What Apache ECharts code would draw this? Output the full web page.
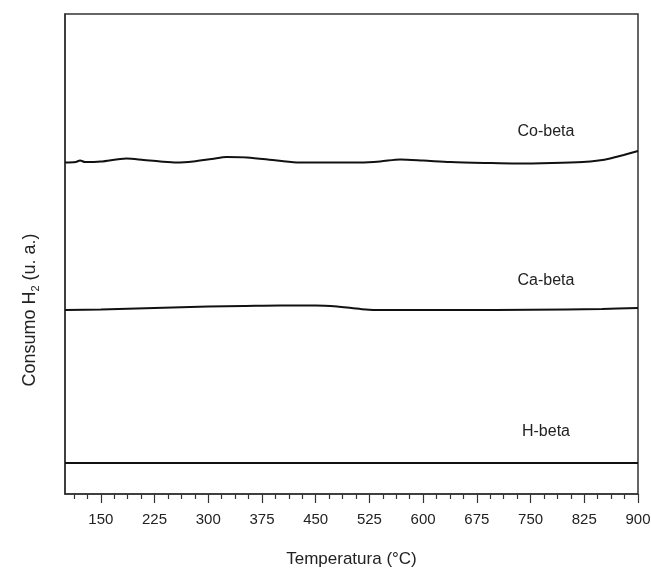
<!DOCTYPE html>
<html>
<head>
<meta charset="utf-8">
<script src="https://cdn.jsdelivr.net/npm/echarts@6/dist/echarts.min.js"></script>
<style>
html,body{margin:0;padding:0;background:#fff;}
#chart{width:651px;height:569px;}
</style>
</head>
<body>
<div id="chart"></div>
<script>
// Data (temperature in °C, signal in arbitrary units)
var coBetaT = [100, 115, 121, 128, 150, 186, 210, 233, 256, 279, 305, 326, 354, 396, 428, 470, 512, 540, 568, 600, 638, 690, 731, 780, 823, 845, 861, 880, 900];
var coBetaV = [331.5, 332, 333.5, 332, 332.5, 335.5, 334, 332.5, 331.5, 332.5, 335, 337, 336.5, 333.5, 331.5, 331.5, 331.5, 332.5, 334.5, 333.5, 332, 331, 330.5, 331, 332, 333.5, 335.5, 339, 343];
var caBetaT = [100, 150, 200, 250, 300, 350, 400, 450, 480, 500, 520, 540, 600, 700, 800, 850, 900];
var caBetaV = [184, 184.5, 185.5, 186.5, 187.5, 188, 188.5, 188.5, 187.5, 186, 184.5, 184, 184, 184, 184.5, 185, 186];
var hBetaT = [100, 300, 500, 700, 900];
var hBetaV = [31, 31, 31, 31, 31];
var xMajorTicks = [150, 225, 300, 375, 450, 525, 600, 675, 750, 825, 900];
var seriesNames = ['Co-beta', 'Ca-beta', 'H-beta'];
var xTitle = 'Temperatura (°C)';

function pairs(t, v) { return t.map(function (x, i) { return [x, v[i]]; }); }
var minorTicks = [];
var step = xMajorTicks[1] - xMajorTicks[0];
for (var k = 0; k < xMajorTicks.length; k++) {
  for (var j = 1; j < 4; j++) {
    var val = xMajorTicks[k] - step + j * step / 4;
    if (val > 100) minorTicks.push(val);
  }
}

var FONT = '"Liberation Sans", Arial, sans-serif';
var chart = echarts.init(document.getElementById('chart'), null, {renderer: 'canvas'});
var lineStyle = {color: '#111', width: 2};
chart.setOption({
  animation: false,
  backgroundColor: '#fff',
  grid: {left: 65, right: 13, top: 14, bottom: 75, show: true, borderColor: '#333', borderWidth: 1.5,
         containLabel: false, outerBoundsMode: 'none'},
  xAxis: [{
    type: 'value', min: 100, max: 900, position: 'bottom',
    axisLine: {show: true, lineStyle: {color: '#333', width: 1.5}},
    splitLine: {show: false},
    axisTick: {show: true, customValues: xMajorTicks, length: 9, lineStyle: {color: '#333', width: 1.2}},
    axisLabel: {show: true, customValues: xMajorTicks, margin: 18, color: '#222', fontSize: 15, fontFamily: FONT},
    name: xTitle, nameLocation: 'middle', nameGap: 57,
    nameTextStyle: {color: '#222', fontSize: 17, fontFamily: FONT}
  }, {
    type: 'value', min: 100, max: 900, position: 'bottom',
    axisLine: {show: false},
    splitLine: {show: false},
    axisTick: {show: true, customValues: minorTicks, length: 5, lineStyle: {color: '#333', width: 1.2}},
    axisLabel: {show: false}
  }],
  yAxis: {
    type: 'value', min: 0, max: 480,
    axisLine: {show: true, lineStyle: {color: '#333', width: 1.5}},
    axisTick: {show: false}, axisLabel: {show: false}, splitLine: {show: false}
  },
  series: [
    {name: seriesNames[0], type: 'line', xAxisIndex: 0, data: pairs(coBetaT, coBetaV), showSymbol: false, smooth: 0.3, lineStyle: lineStyle},
    {name: seriesNames[1], type: 'line', xAxisIndex: 0, data: pairs(caBetaT, caBetaV), showSymbol: false, smooth: 0.3, lineStyle: lineStyle},
    {name: seriesNames[2], type: 'line', xAxisIndex: 0, data: pairs(hBetaT, hBetaV), showSymbol: false, lineStyle: {color: '#111', width: 1.8}}
  ],
  graphic: [
    {type: 'text', x: 546, y: 132, style: {text: seriesNames[0], fontSize: 16, fontFamily: FONT, fill: '#222', align: 'center', verticalAlign: 'middle'}},
    {type: 'text', x: 546, y: 281, style: {text: seriesNames[1], fontSize: 16, fontFamily: FONT, fill: '#222', align: 'center', verticalAlign: 'middle'}},
    {type: 'text', x: 546, y: 432, style: {text: seriesNames[2], fontSize: 16, fontFamily: FONT, fill: '#222', align: 'center', verticalAlign: 'middle'}},
    {type: 'text', x: 30, y: 310, rotation: Math.PI / 2,
     style: {text: '{a|Consumo H}{s|2}{a| (u. a.)}', align: 'center', verticalAlign: 'middle', fill: '#222',
       rich: {a: {fontSize: 18, fontFamily: FONT, fill: '#222', lineHeight: 22},
              s: {fontSize: 11, fontFamily: FONT, fill: '#222', lineHeight: 22, verticalAlign: 'bottom', padding: [9, 0, 0, 0]}}}}
  ]
});
</script>
</body>
</html>
